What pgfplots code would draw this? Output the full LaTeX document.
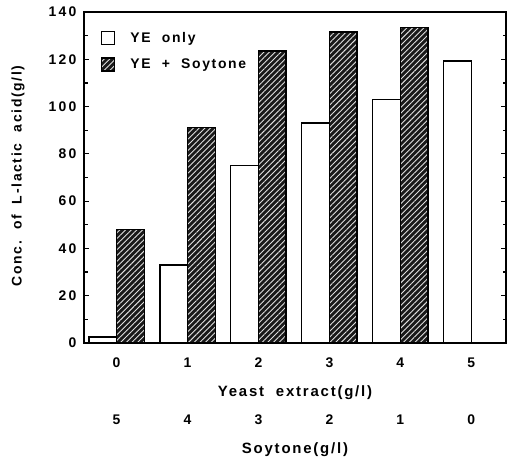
\documentclass[border=0pt]{standalone}
\usepackage{fontspec}
\setmainfont{Liberation Sans}
\usepackage{pgfplots}
\pgfplotsset{compat=1.18}
\usetikzlibrary{patterns.meta}
\newcommand{\lbl}{\bfseries\addfontfeature{LetterSpace=12}}
\newcommand{\tlbl}{\fontsize{14}{14}\selectfont\bfseries\addfontfeature{LetterSpace=16}}
\begin{document}
\begin{tikzpicture}
\begin{axis}[
  at={(0,0)}, anchor=south west,
  scale only axis, width=422bp, height=331bp,
  xmin=-0.46, xmax=5.49, ymin=0, ymax=140,
  ytick={0,20,...,140}, minor ytick={10,30,...,130},
  xtick={0,1,2,3,4,5},
  x tick style={draw=none},
  y tick style={line width=1.2pt, black},
  major tick length=5bp, minor tick length=3.5bp,
  tick align=inside,
  axis line style={line width=1.5pt},
  /pgf/number format/assume math mode=true,
  tick label style={font=\tlbl},
  xticklabel style={yshift=-11bp},
  yticklabel style={xshift=-4bp},
  legend style={draw=none, fill=none, at={(axis description cs:0,1)}, anchor=north west, xshift=14bp, yshift=-16bp,
    font=\fontsize{14}{14}\selectfont\lbl, row sep=11bp, nodes={inner xsep=9bp},
    /tikz/every odd column/.append style={column sep=6bp}},
  legend image code/.code={\draw[#1, line width=1.3pt] (0bp,-6.5bp) rectangle (13bp,6.5bp);},
  legend cell align=left,
  clip=false,
]
\addplot[ybar, bar width=0.39, bar shift=-0.195, fill=white, draw=black, line width=1.3pt]
  coordinates {(0,2.5)(1,33)(2,75)(3,93)(4,103)(5,119.3)};
\addlegendentry{YE\ \ only}
\addplot[ybar, bar width=0.39, bar shift=0.195, fill=black!90, draw=black, line width=1.3pt,
  postaction={pattern={Lines[angle=45,distance=4bp,line width=0.9bp]}, pattern color=gray!25}]
  coordinates {(0,48)(1,91.2)(2,123.5)(3,131.6)(4,133.3)};
\addlegendentry{YE\ \ +\ \ Soytone}
\foreach \i/\s in {0/5,1/4,2/3,3/2,4/1,5/0} {
  \edef\tmp{\noexpand\node[font=\noexpand\tlbl] at (axis cs:\i,0) [yshift=-77bp] {\s};}
  \tmp
}
\node[font=\fontsize{15}{15}\selectfont\lbl] at (axis description cs:0.5,0) [yshift=-50bp] {Yeast\ \ extract(g/l)};
\node[font=\fontsize{15}{15}\selectfont\lbl] at (axis description cs:0.5,0) [yshift=-107bp] {Soytone(g/l)};
\end{axis}
\node[rotate=90, font=\fontsize{14}{14}\selectfont\lbl] at (-66bp,167bp) {Conc.\ \ of\ \ L-lactic\ \ acid(g/l)};
\pgfresetboundingbox
\path[use as bounding box] (-84bp,-120bp) rectangle (423bp,343bp);
\end{tikzpicture}
\end{document}
